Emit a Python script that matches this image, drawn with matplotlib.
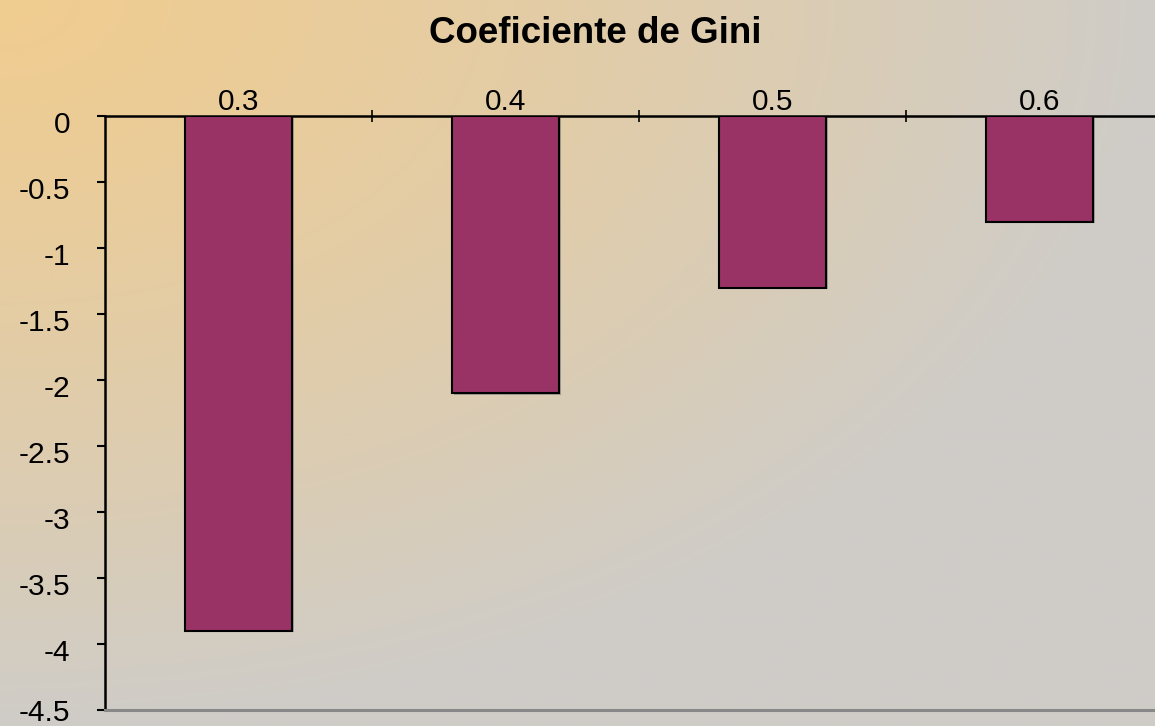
import numpy as np
import matplotlib
matplotlib.use("Agg")
import matplotlib.pyplot as plt
import matplotlib.patheffects as pe
from matplotlib.transforms import ScaledTranslation

plt.rcParams['font.family'] = ['Liberation Sans', 'DejaVu Sans']
plt.rcParams['axes.unicode_minus'] = False

# ---- data ----
categories = ["0.3", "0.4", "0.5", "0.6"]
values = [-3.9, -2.1, -1.3, -0.8]
y_ticks = [0, -0.5, -1, -1.5, -2, -2.5, -3, -3.5, -4, -4.5]
y_tick_labels = ["0", "-0.5", "-1", "-1.5", "-2", "-2.5", "-3", "-3.5", "-4", "-4.5"]
title = "Coeficiente de Gini"

W, H = 1155, 726
fig = plt.figure(figsize=(W / 100, H / 100), dpi=100)

# background gradient (radial from top-left)
bg = fig.add_axes([0, 0, 1, 1], zorder=-10)
yy, xx = np.mgrid[0:1:300j, 0:1:400j]
t = np.clip(np.sqrt(xx ** 2 + yy ** 2), 0, 1) ** 1.25
c1 = np.array([240, 204, 144]) / 255
c2 = np.array([207, 204, 200]) / 255
img = c1[None, None, :] * (1 - t[..., None]) + c2[None, None, :] * t[..., None]
bg.imshow(img, aspect='auto', extent=[0, 1, 0, 1], origin='upper')
bg.set_axis_off()

left_px, top_px, bottom_px = 105, 116, 710
ax = fig.add_axes([left_px / W, (H - bottom_px) / H, (W - left_px) / W, (bottom_px - top_px) / H])
ax.set_facecolor('none')

x = np.arange(len(categories))
bars = ax.bar(x, values, width=0.40, color='#993366', edgecolor='black', linewidth=1.5, zorder=3)
for b in bars:
    b.set_path_effects([pe.SimplePatchShadow(offset=(1.2, -1.2), shadow_rgbFace='gray', alpha=0.6), pe.Normal()])

span = (W - left_px) / 267.0
ax.set_xlim(-0.5, -0.5 + span)
ax.set_ylim(-4.5, 0)

# x axis at top (y=0)
ax.xaxis.tick_top()
ax.set_xticks(x)
ax.set_xticklabels(categories, fontsize=21.5)
ax.tick_params(axis='x', which='major', length=0, pad=0)
ax.set_xticks([0.5, 1.5, 2.5], minor=True)
ax.tick_params(axis='x', which='minor', direction='inout', length=8, width=1.2, top=True, bottom=False)

ax.set_yticks(y_ticks)
ax.set_yticklabels(y_tick_labels, fontsize=21.5)
ax.tick_params(axis='y', direction='out', length=6, width=1.5, pad=19)
labs = ax.get_yticklabels()
for i, lab in enumerate(labs):
    dy = -0.06 if i < len(labs) - 1 else 0.0
    lab.set_transform(lab.get_transform() + ScaledTranslation(0, dy, fig.dpi_scale_trans))

ax.spines['right'].set_visible(False)
ax.spines['top'].set_color('black')
ax.spines['top'].set_linewidth(1.8)
ax.spines['left'].set_color('black')
ax.spines['left'].set_linewidth(1.8)
ax.spines['bottom'].set_color('#888888')
ax.spines['bottom'].set_linewidth(2.2)

fig.text(595 / W, 1 - 43 / H, title, ha='center', va='baseline', fontsize=26.5, fontweight='bold')

fig.savefig("out.png", dpi=100)
